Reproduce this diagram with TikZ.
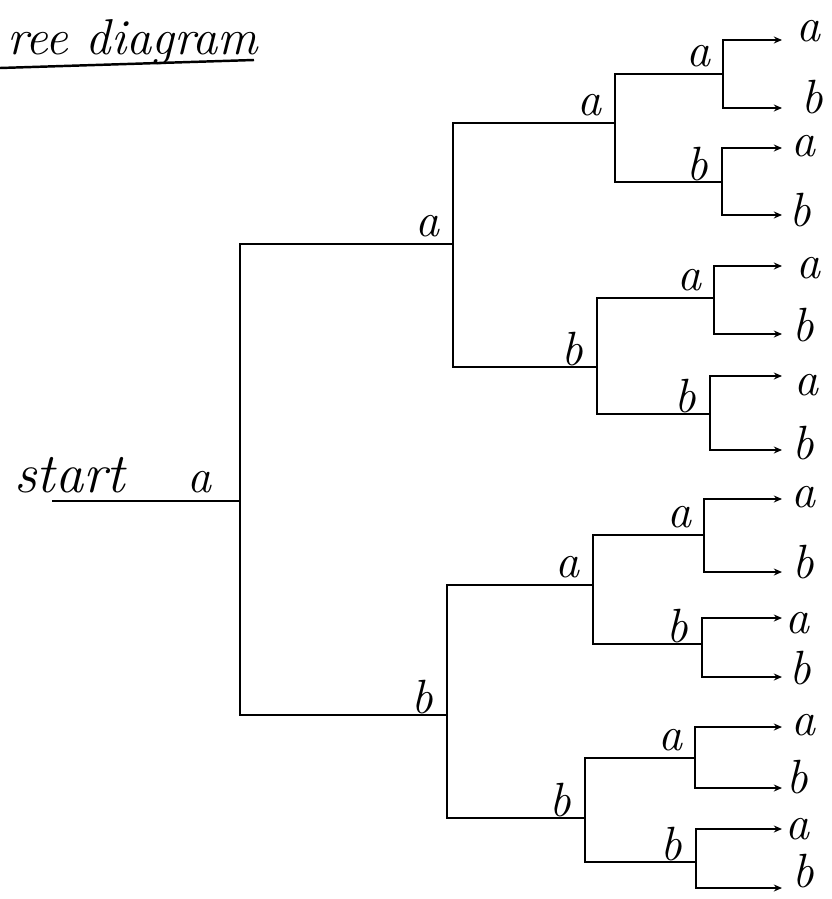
\documentclass[tikz,border=0pt]{standalone}
\usetikzlibrary{arrows.meta}
\begin{document}
\begin{tikzpicture}[x=0.03cm,y=-0.03cm,line width=2.1pt,
  lab/.style={font=\fontsize{41}{48}\selectfont\itshape,inner sep=0pt},
  leaf/.style={-{Stealth[length=7pt,width=6pt]}}]
  \useasboundingbox (0,0) rectangle (831,899);

  \node[lab,anchor=base west,font=\fontsize{43}{50}\selectfont\itshape] (title) at (6,55) {ree diagram};
  \draw (0,68) -- (254,60);

  \node[lab,anchor=base west,font=\fontsize{48}{54}\selectfont\itshape] (start) at (13,492) {start};
  \node[lab] (s) at (200,482) {a};
  \coordinate (S) at (52,501);
  \coordinate (R) at (240,501);
  \draw (S) -- (R);

  % branch points
  \coordinate (A) at (453,244);
  \coordinate (B) at (447,715);
  \coordinate (AA) at (615,123);
  \coordinate (AB) at (597,367);
  \coordinate (BA) at (593,585);
  \coordinate (BB) at (585,818);
  \coordinate (AAA) at (723,74);
  \coordinate (AAB) at (722,182);
  \coordinate (ABA) at (714,298);
  \coordinate (ABB) at (710,414);
  \coordinate (BAA) at (704,535);
  \coordinate (BAB) at (702,644);
  \coordinate (BBA) at (695,758);
  \coordinate (BBB) at (696,862);

  \foreach \p/\c/\l in {R/A/a, R/B/b,
    A/AA/a, A/AB/b, B/BA/a, B/BB/b,
    AA/AAA/a, AA/AAB/b, AB/ABA/a, AB/ABB/b,
    BA/BAA/a, BA/BAB/b, BB/BBA/a, BB/BBB/b}
  {
    \draw (\p) |- (\c);
    \node[lab] (l\c) at ([shift={(-25,-18)}]\c) {\l};
  }

  % leaves
  \foreach \p/\n/\y/\tx/\ty/\l in {
    AAA/1/40/808/31/a, AAA/2/108/812/97/b,
    AAB/3/148/803/146/a, AAB/4/215/800/210/b,
    ABA/5/266/808/268/a, ABA/6/334/803/325/b,
    ABB/7/376/806/385/a, ABB/8/450/803/443/b,
    BAA/9/499/803/497/a, BAA/10/572/803/562/b,
    BAB/11/618/797/623/a, BAB/12/677/800/668/b,
    BBA/13/727/803/725/a, BBA/14/788/797/777/b,
    BBB/15/829/797/829/a, BBB/16/888/803/871/b}
  {
    \coordinate (e\n) at (782,\y);
    \draw[leaf] (\p) |- (e\n);
    \node[lab] (t\n) at (\tx,\ty) {\l};
  }
\end{tikzpicture}
\end{document}
